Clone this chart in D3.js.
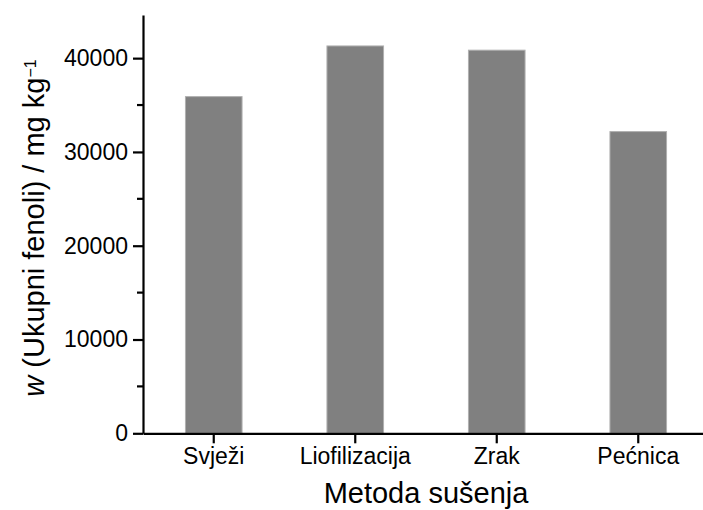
<!DOCTYPE html>
<html>
<head>
<meta charset="utf-8">
<script src="https://cdn.jsdelivr.net/npm/d3@7"></script>
<style>
  body { margin: 0; background: #fff; }
  text { font-family: "Liberation Sans", Arial, sans-serif; fill: #000; }
</style>
</head>
<body>
<svg width="703" height="510"></svg>
<script>
// data
const categories = ["Svježi", "Liofilizacija", "Zrak", "Pećnica"];
const values = [35900, 41300, 40850, 32170];
const yTicks = [0, 10000, 20000, 30000, 40000];
const yMinorTicks = [5000, 15000, 25000, 35000];

window.onload = () => {
  const svg = d3.select("svg");
  const margin = { top: 15, left: 143, bottom: 433.3, right: 709 };

  const xScale = d3.scaleBand()
    .domain(categories)
    .range([margin.left, margin.right])
    .paddingInner(0.6)
    .paddingOuter(0.3);

  const yScale = d3.scaleLinear()
    .domain([0, 44600])
    .range([margin.bottom, margin.top]);

  // bars
  svg.selectAll("rect.bar")
    .data(categories)
    .enter()
    .append("rect")
    .attr("class", "bar")
    .attr("x", d => xScale(d))
    .attr("width", xScale.bandwidth())
    .attr("y", (d, i) => yScale(values[i]))
    .attr("height", (d, i) => yScale(0) - yScale(values[i]))
    .attr("fill", "#808080")
    .attr("stroke", "#b0b0b0")
    .attr("stroke-width", 1);

  // y axis
  const yAxis = d3.axisLeft(yScale)
    .tickValues(yTicks)
    .tickSize(10)
    .tickPadding(5)
    .tickSizeOuter(0)
    .tickFormat(d3.format("d"));
  const yAxisG = svg.append("g")
    .attr("transform", `translate(${margin.left},0)`)
    .call(yAxis);
  yAxisG.select(".domain").attr("stroke-width", 2.2);
  yAxisG.selectAll(".tick line").attr("stroke-width", 2.2);
  yAxisG.selectAll(".tick text")
    .style("font-size", "23px");

  // minor ticks
  yAxisG.selectAll("line.minor")
    .data(yMinorTicks)
    .enter()
    .append("line")
    .attr("class", "minor")
    .attr("x1", -6)
    .attr("x2", 0)
    .attr("y1", d => yScale(d))
    .attr("y2", d => yScale(d))
    .attr("stroke", "#000")
    .attr("stroke-width", 2.2);

  // x axis
  const xAxis = d3.axisBottom(xScale)
    .tickSize(10)
    .tickPadding(4)
    .tickSizeOuter(0);
  const xAxisG = svg.append("g")
    .attr("transform", `translate(0,${margin.bottom})`)
    .call(xAxis);
  xAxisG.select(".domain").attr("stroke-width", 2.2);
  xAxisG.selectAll(".tick line").attr("stroke-width", 2.2);
  xAxisG.selectAll(".tick text")
    .style("font-size", "23px");

  // axis titles
  svg.append("text")
    .attr("x", (margin.left + margin.right) / 2)
    .attr("y", 503)
    .attr("text-anchor", "middle")
    .style("font-size", "29px")
    .text("Metoda sušenja");

  const yLabel = svg.append("text")
    .attr("transform", "translate(44,228) rotate(-90)")
    .attr("text-anchor", "middle")
    .style("font-size", "29px");
  yLabel.append("tspan").style("font-style", "italic").text("w");
  yLabel.append("tspan").text(" (Ukupni fenoli) / mg kg");
  yLabel.append("tspan")
    .attr("baseline-shift", "super")
    .style("font-size", "16px")
    .text("−1");
};
</script>
</body>
</html>
